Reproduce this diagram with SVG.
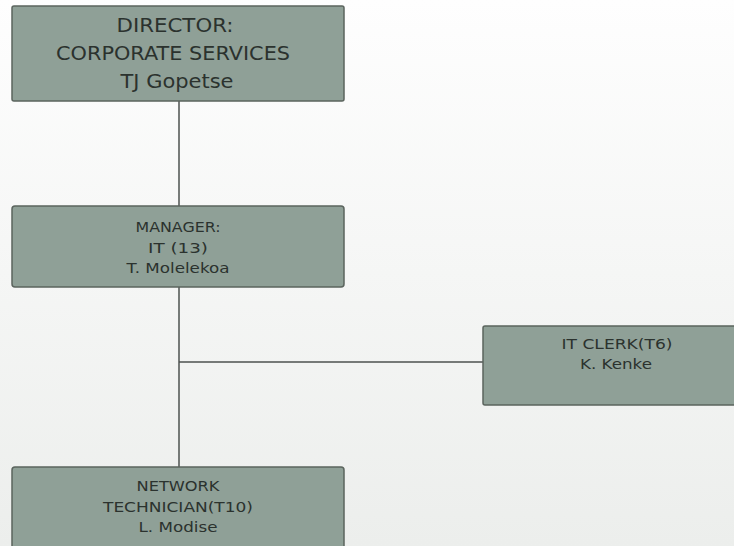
<svg xmlns="http://www.w3.org/2000/svg" width="734" height="546" viewBox="0 0 734 546">
<defs>
<linearGradient id="bg" x1="0" y1="0" x2="0" y2="1">
<stop offset="0" stop-color="#fefefe"/>
<stop offset="1" stop-color="#eceeec"/>
</linearGradient>
</defs>
<style>
.box{fill:#8fa097;stroke:#5b645e;stroke-width:1.5}
.t{font-family:"DejaVu Sans",Verdana,sans-serif;fill:#2b322e;text-anchor:middle}
.big{font-size:19px}
.sm{font-size:13.5px}
.ln{stroke:#4d524f;stroke-width:1.5;fill:none}
</style>
<rect width="734" height="546" fill="url(#bg)"/>
<g id="connectors">
<line class="ln" x1="179" y1="101" x2="179" y2="467"/>
<line class="ln" x1="179" y1="362" x2="483" y2="362"/>
</g>
<g id="director">
<rect class="box" x="12" y="6" width="332" height="95" rx="2"/>
<text class="t big" x="175" y="32" textLength="117" lengthAdjust="spacingAndGlyphs">DIRECTOR:</text>
<text class="t big" x="173" y="60" textLength="234" lengthAdjust="spacingAndGlyphs">CORPORATE SERVICES</text>
<text class="t big" x="177" y="88" textLength="113" lengthAdjust="spacingAndGlyphs">TJ Gopetse</text>
</g>
<g id="manager">
<rect class="box" x="12" y="206" width="332" height="81" rx="3"/>
<text class="t sm" x="178" y="232" textLength="85" lengthAdjust="spacingAndGlyphs">MANAGER:</text>
<text class="t sm" x="178" y="253" textLength="60" lengthAdjust="spacingAndGlyphs">IT (13)</text>
<text class="t sm" x="178" y="273" textLength="103" lengthAdjust="spacingAndGlyphs">T. Molelekoa</text>
</g>
<g id="itclerk">
<rect class="box" x="483" y="326" width="268" height="79" rx="2"/>
<text class="t sm" x="617" y="349" textLength="111" lengthAdjust="spacingAndGlyphs">IT CLERK(T6)</text>
<text class="t sm" x="616" y="369" textLength="72" lengthAdjust="spacingAndGlyphs">K. Kenke</text>
</g>
<g id="network">
<rect class="box" x="12" y="467" width="332" height="90" rx="3"/>
<text class="t sm" x="178" y="491" textLength="83" lengthAdjust="spacingAndGlyphs">NETWORK</text>
<text class="t sm" x="178" y="512" textLength="150" lengthAdjust="spacingAndGlyphs">TECHNICIAN(T10)</text>
<text class="t sm" x="178" y="532" textLength="79" lengthAdjust="spacingAndGlyphs">L. Modise</text>
</g>
</svg>
